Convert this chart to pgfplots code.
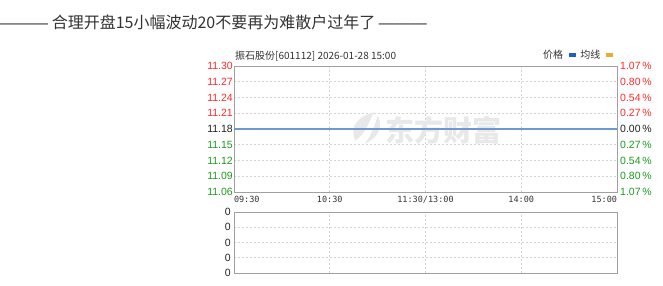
\documentclass[border=0pt]{standalone}
\usepackage{fontspec}
\setmainfont{Liberation Sans}
\newfontfamily\cjk{Noto Sans CJK SC}
\newfontfamily\mono{DejaVu Sans Mono}
\usepackage{pgfplots}
\pgfplotsset{compat=1.18}
\definecolor{cred}{HTML}{FF2A2A}
\definecolor{cgreen}{HTML}{1E9A1E}
\definecolor{cblk}{HTML}{222222}
\definecolor{cline}{HTML}{6F98CF}
\definecolor{cleg}{HTML}{2060B8}
\definecolor{cyel}{HTML}{E8AE32}
\definecolor{cgrid}{HTML}{D4D4D4}
\definecolor{cframe}{HTML}{A0A0A0}
\definecolor{cwm}{HTML}{E8E8E8}
\definecolor{ctext}{HTML}{333333}
\begin{document}
\begin{tikzpicture}[x=1pt,y=1pt]
\useasboundingbox[fill=white] (0,0) rectangle (663,285);
\node[anchor=west,inner sep=0pt,font=\cjk\fontsize{16}{18}\selectfont,text=ctext] at (0,263) {{\rmfamily\fontsize{16}{18}\selectfont ———} 合理开盘15小幅波动20不要再为难散户过年了 {\rmfamily\fontsize{16}{18}\selectfont ———}};
\node[anchor=west,inner sep=0pt,font=\cjk\fontsize{10}{12}\selectfont,text=ctext] at (235,229) {振石股份[601112] 2026-01-28 15:00};
% main price axis
\begin{axis}[
  at={(234pt,93pt)}, anchor=south west,
  width=383pt, height=126pt, scale only axis,
  xmin=0, xmax=240, ymin=11.06, ymax=11.30,
  xtick={0,60,120,180,240},
  xticklabels={\rlap{09:30},10:30,11:30/13:00,14:00,\llap{15:00}},
  xticklabel style={font=\mono\fontsize{8.5}{10}\selectfont,text=ctext,inner sep=1pt,yshift=-3pt},
  ytick={11.06,11.09,11.12,11.15,11.18,11.21,11.24,11.27,11.30},
  yticklabels={\textcolor{cgreen}{11.06},\textcolor{cgreen}{11.09},\textcolor{cgreen}{11.12},\textcolor{cgreen}{11.15},\textcolor{cblk}{11.18},\textcolor{cred}{11.21},\textcolor{cred}{11.24},\textcolor{cred}{11.27},\textcolor{cred}{11.30}},
  yticklabel style={font=\fontsize{10.5}{12}\selectfont,inner sep=1pt},
  major tick length=0pt,
  grid=major,
  major grid style={cgrid, dash pattern=on 2pt off 2pt, line width=0.6pt},
  axis line style={cframe, line width=0.8pt},
  legend style={at={(rel axis cs:1,1)}, anchor=south east, draw=none, fill=none,
    font=\cjk\fontsize{10}{12}\selectfont, text=ctext, inner sep=0pt, yshift=4pt, xshift=-4pt,
    /tikz/every even column/.append style={column sep=3pt}},
  legend columns=2,
  legend plot pos=right,
  legend entries={价格,均线},
  clip=false,
]
\addlegendimage{legend image code/.code={\path (0pt,0pt); \fill[cleg] (4pt,-1.5pt) rectangle (10pt,1.5pt);}}
\addlegendimage{legend image code/.code={\path (0pt,0pt); \fill[cyel] (4pt,-1.5pt) rectangle (10pt,1.5pt);}}
\node[font=\cjk\bfseries\fontsize{29}{30}\selectfont,text=cwm,inner sep=0pt] at (axis cs:131,11.178) {东方财富};
\fill[cwm] (axis cs:76,11.158) .. controls (axis cs:72,11.185) and (axis cs:78,11.205) .. (axis cs:88,11.212)
  .. controls (axis cs:84,11.195) and (axis cs:84,11.175) .. (axis cs:76,11.158) -- cycle;
\fill[cwm] (axis cs:82,11.152) .. controls (axis cs:92,11.165) and (axis cs:93,11.190) .. (axis cs:90,11.205)
  .. controls (axis cs:88,11.185) and (axis cs:86,11.168) .. (axis cs:82,11.152) -- cycle;
\addplot[cline, line width=1.2pt, forget plot] coordinates {(0,11.18) (240,11.18)};
\end{axis}
% right percentage axis
\begin{axis}[
  at={(234pt,93pt)}, anchor=south west,
  width=383pt, height=126pt, scale only axis,
  xmin=0, xmax=240, ymin=11.06, ymax=11.30,
  axis x line=none, axis y line*=right,
  ytick={11.06,11.09,11.12,11.15,11.18,11.21,11.24,11.27,11.30},
  yticklabels={\textcolor{cgreen}{1.07\,\%},\textcolor{cgreen}{0.80\,\%},\textcolor{cgreen}{0.54\,\%},\textcolor{cgreen}{0.27\,\%},\textcolor{cblk}{0.00\,\%},\textcolor{cred}{0.27\,\%},\textcolor{cred}{0.54\,\%},\textcolor{cred}{0.80\,\%},\textcolor{cred}{1.07\,\%}},
  yticklabel style={font=\fontsize{10.5}{12}\selectfont,inner sep=1pt,anchor=west,xshift=2pt},
  major tick length=0pt,
  axis line style={cframe, line width=0.8pt},
]
\addplot[draw=none] coordinates {(0,11.18)};
\end{axis}
% volume axis
\begin{axis}[
  at={(234pt,12pt)}, anchor=south west,
  width=383pt, height=61pt, scale only axis,
  xmin=0, xmax=240, ymin=0, ymax=4,
  xtick={60,120,180}, xticklabels={},
  ytick={0,1,2,3,4}, yticklabels={0,0,0,0,0},
  yticklabel style={font=\fontsize{10.5}{12}\selectfont,text=cblk,inner sep=1pt,xshift=-2pt},
  major tick length=0pt,
  grid=major,
  major grid style={cgrid, dash pattern=on 2pt off 2pt, line width=0.6pt},
  axis line style={cframe, line width=0.8pt},
]
\addplot[draw=none] coordinates {(0,0)};
\end{axis}
\end{tikzpicture}
\end{document}
